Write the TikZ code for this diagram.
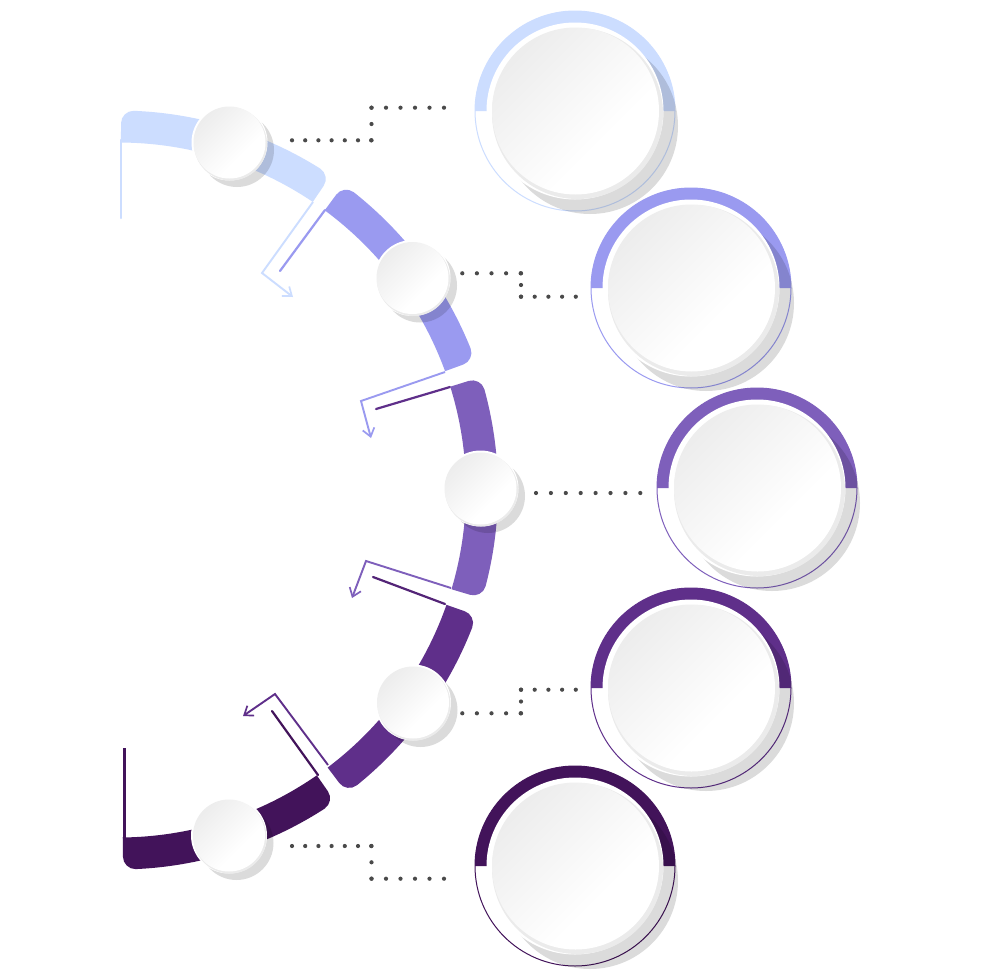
\documentclass[tikz,border=0pt]{standalone}
\usetikzlibrary{arrows.meta}
\definecolor{cA}{HTML}{CCDDFF}
\definecolor{cB}{HTML}{9A9AF0}
\definecolor{cC}{HTML}{7E5FBB}
\definecolor{cD}{HTML}{5F2F8A}
\definecolor{cE}{HTML}{42135A}
\definecolor{dotgrey}{HTML}{4A4A4A}
\pgfdeclareverticalshading{discface}{100bp}{color(0bp)=(white); color(38bp)=(white); color(74bp)=(black!7); color(100bp)=(black!7)}
\tikzset{
  dotline/.style={line width=4.2pt,line cap=round,dash pattern=on 0pt off #1,dotgrey},
  tailline/.style={line width=2.2pt,line cap=round},
  turnline/.style={line width=1.9pt,line join=miter,-{Straight Barb[length=8pt,width=12pt,line width=1.7pt]}},
  shadowdisc/.style={fill=black,fill opacity=0.14},
  facedisc/.style={shading=discface,shading angle=45},
}
% band segment around the common arc centre, angles clockwise on screen
\newcommand{\bandseg}[3]{%
  \begin{scope}[shift={(118.5,490)}]
  \pgfmathsetmacro{\aone}{#2+1.9}\pgfmathsetmacro{\atwo}{#3-1.9}
  \pgfmathsetmacro{\aonec}{#2+0.85}\pgfmathsetmacro{\atwoc}{#3-0.85}
  \fill[#1] (#2:347.5) -- (#2:367)
    .. controls (#2:373.5) and (\aonec:379.5) .. (\aone:379.5)
    arc[start angle=\aone,end angle=\atwo,radius=379.5]
    .. controls (\atwoc:379.5) and (#3:373.5) .. (#3:367)
    -- (#3:347.5)
    arc[start angle=#3,end angle=#2,radius=347.5] -- cycle;
  \end{scope}}
\newcommand{\bigdisc}[4]{% name, x, y, colour
  \coordinate (#1) at (#2,#3);
  \draw[#4,line width=1pt] (#1) circle[radius=100];
  \fill[#4] ([xshift=-100pt]#1) arc[start angle=180,end angle=360,radius=100]
     -- ([xshift=88pt]#1) arc[start angle=360,end angle=180,radius=88] -- cycle;
  \fill[shadowdisc] ([shift={(15,15)}]#1) circle[radius=88];
  \fill[white] (#1) circle[radius=88.5];
  \fill[black!8] ([shift={(2.5,2.5)}]#1) circle[radius=85.5];
  \shade[facedisc] ([shift={(0.5,0)}]#1) circle[radius=83.5];
}
\newcommand{\smalldisc}[3]{% name, x, y
  \coordinate (#1) at (#2,#3);
  \fill[shadowdisc] ([shift={(7.5,7.5)}]#1) circle[radius=37];
  \fill[white] (#1) circle[radius=38];
  \fill[black!8] ([shift={(1,1.5)}]#1) circle[radius=36.5];
  \shade[facedisc] (#1) circle[radius=36];
}
\begin{document}
\begin{tikzpicture}[x=1pt,y=-1pt]
\useasboundingbox (0,0) rectangle (980,980);
\fill[white] (0,0) rectangle (980,980);

% tail and turn lines
\coordinate (tailAa) at (121,140); \coordinate (tailAb) at (121,218);
\draw[cA,tailline] (tailAa) -- (tailAb);
\coordinate (tailBa) at (325,210); \coordinate (tailBb) at (280,271);
\draw[cB,tailline] (tailBa) -- (tailBb);
\coordinate (tailCa) at (450,387); \coordinate (tailCb) at (376,409);
\draw[cD,tailline] (tailCa) -- (tailCb);
\coordinate (tailDa) at (445,604); \coordinate (tailDb) at (373,577);
\draw[cD!60!cE,tailline] (tailDa) -- (tailDb);
\coordinate (tailEa) at (318,775); \coordinate (tailEb) at (272,711);
\draw[cE,tailline] (tailEa) -- (tailEb);
\coordinate (tailFa) at (124.5,840); \coordinate (tailFb) at (124.5,748);
\draw[cE,line width=2.4pt] (tailFa) -- (tailFb);

\coordinate (turnAa) at (313,202); \coordinate (turnAb) at (262,273); \coordinate (turnAc) at (293,297);
\draw[cA,turnline] (turnAa) -- (turnAb) -- (turnAc);
\coordinate (turnBa) at (445,372); \coordinate (turnBb) at (361,401); \coordinate (turnBc) at (371,438);
\draw[cB,turnline] (turnBa) -- (turnBb) -- (turnBc);
\coordinate (turnCa) at (451,588); \coordinate (turnCb) at (366,561); \coordinate (turnCc) at (352,598);
\draw[cC,turnline] (turnCa) -- (turnCb) -- (turnCc);
\coordinate (turnDa) at (328,765); \coordinate (turnDb) at (275,694); \coordinate (turnDc) at (243,716);
\draw[cD,turnline] (turnDa) -- (turnDb) -- (turnDc);

% arc band
\bandseg{cA}{-89.6}{-56}
\bandseg{cB}{-53.6}{-20}
\bandseg{cC}{-17.3}{16.6}
\bandseg{cD}{19.3}{53}
\bandseg{cE}{55.2}{89.3}

% small discs
\smalldisc{sA}{229.5}{142.5}
\smalldisc{sB}{412.5}{278}
\smalldisc{sC}{480.5}{488.5}
\smalldisc{sD}{413}{702.5}
\smalldisc{sE}{229}{835.5}

% big discs
\bigdisc{bA}{575}{111}{cA}
\bigdisc{bB}{691}{288}{cB}
\bigdisc{bC}{757}{488}{cC}
\bigdisc{bD}{691}{688}{cD}
\bigdisc{bE}{575}{866}{cE}

% dotted connectors: each leg has its own dot spacing
\coordinate (dAa) at (292,140.3); \coordinate (dAb) at (371.5,140.3); \coordinate (dAc) at (371.5,107.7); \coordinate (dAd) at (444,107.7);
\draw[dotline=13.2pt] (dAa) -- (dAb);
\draw[dotline=16.3pt] (dAb) -- (dAc);
\draw[dotline=14.5pt] (dAc) -- (dAd);
\coordinate (dBa) at (462.3,273.3); \coordinate (dBb) at (521,273.3); \coordinate (dBc) at (521,296.7); \coordinate (dBd) at (576,296.7);
\draw[dotline=14.6pt] (dBa) -- (dBb);
\draw[dotline=11.7pt] (dBb) -- (dBc);
\draw[dotline=13.7pt] (dBc) -- (dBd);
\coordinate (dCa) at (536,493); \coordinate (dCb) at (641,493);
\draw[dotline=14.9pt] (dCa) -- (dCb);
\coordinate (dDa) at (462.3,713.3); \coordinate (dDb) at (521,713.3); \coordinate (dDc) at (521,689.7); \coordinate (dDd) at (576,689.7);
\draw[dotline=14.6pt] (dDa) -- (dDb);
\draw[dotline=11.8pt] (dDb) -- (dDc);
\draw[dotline=13.7pt] (dDc) -- (dDd);
\coordinate (dEa) at (292,846); \coordinate (dEb) at (371.5,846); \coordinate (dEc) at (371.5,878.7); \coordinate (dEd) at (444,878.7);
\draw[dotline=13.2pt] (dEa) -- (dEb);
\draw[dotline=16.3pt] (dEb) -- (dEc);
\draw[dotline=14.5pt] (dEc) -- (dEd);
\end{tikzpicture}
\end{document}
